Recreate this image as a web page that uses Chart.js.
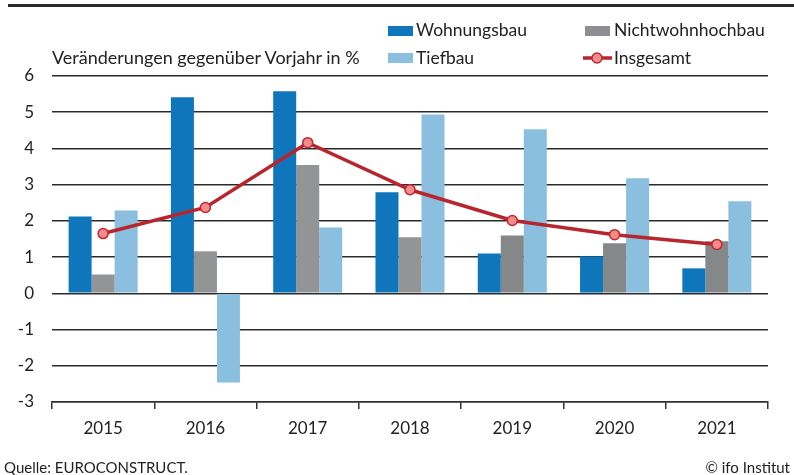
<!DOCTYPE html>
<html><head><meta charset="utf-8">
<script src="https://cdn.jsdelivr.net/npm/chart.js@4.4.1/dist/chart.umd.min.js"></script>
<style>
html,body{margin:0;padding:0;background:#fff;}
#wrap{position:relative;width:794px;height:475px;overflow:hidden;font-family:Lato,"Liberation Sans",sans-serif;color:#222;}
#c{position:absolute;left:0;top:0;}
.t{position:absolute;white-space:nowrap;font-size:17.5px;line-height:20px;}
.box{position:absolute;width:25px;height:10px;}
#topline{position:absolute;left:8px;top:4px;width:786px;height:3px;background:#2a2a2a;}
</style></head>
<body><div id="wrap">
<canvas id="c" width="794" height="475"></canvas>
<div id="topline"></div>
<div class="t" style="left:52px;top:47px;font-size:18px;">Veränderungen gegenüber Vorjahr in %</div>
<div class="box" style="left:388px;top:26px;background:#1076BC"></div>
<div class="t" style="left:416px;top:20px;">Wohnungsbau</div>
<div class="box" style="left:585px;top:26px;background:#8E8F92"></div>
<div class="t" style="left:614px;top:20px;">Nichtwohnhochbau</div>
<div class="box" style="left:388px;top:53px;background:#8ABFE0"></div>
<div class="t" style="left:416px;top:48px;">Tiefbau</div>
<svg style="position:absolute;left:583px;top:50px" width="30" height="16"><line x1="0" y1="8" x2="29" y2="8" stroke="#B8262D" stroke-width="3.5"/><circle cx="14" cy="8" r="5" fill="#F28C8C" stroke="#C1272D" stroke-width="1.5"/></svg>
<div class="t" style="left:614px;top:48px;">Insgesamt</div>
<div class="t" style="left:4px;top:457px;font-size:15px;">Quelle: EUROCONSTRUCT.</div>
<div class="t" style="right:4px;top:457px;font-size:15px;">© ifo Institut</div>
</div>
<script>
const categories = ['2015','2016','2017','2018','2019','2020','2021'];
const wohnungsbau = [2.12, 5.41, 5.58, 2.79, 1.10, 1.02, 0.69];
const nichtwohnhochbau = [0.52, 1.16, 3.54, 1.55, 1.60, 1.38, 1.44];
const tiefbau = [2.29, -2.46, 1.82, 4.94, 4.53, 3.18, 2.54];
const insgesamt = [1.65, 2.37, 4.16, 2.86, 2.01, 1.62, 1.35];
const yTicks = { min: -3, max: 6, step: 1 };

const greyCols = ['#939496','#939496','#939496','#939496','#848888','#848888','#848888'];
const FONT = 'Lato, "Liberation Sans", sans-serif';

new Chart(document.getElementById('c'), {
  data: {
    labels: categories,
    datasets: [
      { type:'line', label:'Insgesamt', data: insgesamt, order:0,
        borderColor:'#B8262D', borderWidth:3.5, tension:0,
        pointRadius:5, pointBackgroundColor:'#F28C8C', pointBorderColor:'#C1272D', pointBorderWidth:1.5 },
      { type:'bar', label:'Wohnungsbau', data: wohnungsbau, order:1, backgroundColor:'#1076BC',
        categoryPercentage:0.675, barPercentage:1.0 },
      { type:'bar', label:'Nichtwohnhochbau', data: nichtwohnhochbau, order:1, backgroundColor:greyCols,
        categoryPercentage:0.675, barPercentage:1.0 },
      { type:'bar', label:'Tiefbau', data: tiefbau, order:1, backgroundColor:'#8ABFE0',
        categoryPercentage:0.675, barPercentage:1.0 }
    ]
  },
  options: {
    responsive:false, animation:false, devicePixelRatio:1,
    layout:{ padding:{ top:76, right:26, left:0, bottom:0 } },
    plugins:{ legend:{display:false}, tooltip:{enabled:false} },
    scales:{
      x:{
        offset:true,
        grid:{ offset:true, drawOnChartArea:false, drawTicks:true, tickLength:7, color:'#333', lineWidth:1.5 },
        border:{ display:true, color:'#333', width:1.5 },
        ticks:{ padding:9, color:'#222', font:{ family:FONT, size:17 } },
        afterFit: s => { s.height = 73; }
      },
      y:{
        min:yTicks.min, max:yTicks.max,
        grid:{ color:'#2b2b2b', lineWidth:1.5, drawTicks:false },
        border:{ display:false },
        ticks:{ stepSize:yTicks.step, padding:18, color:'#222', font:{ family:FONT, size:17 } },
        afterFit: s => { s.width = 52; }
      }
    }
  }
});
</script>
</body></html>
